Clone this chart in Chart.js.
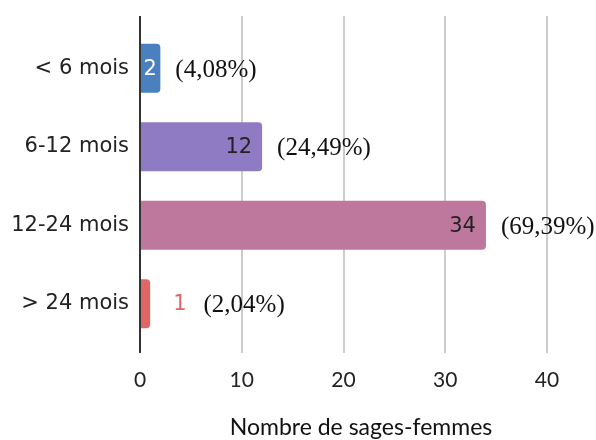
<!DOCTYPE html>
<html>
<head>
<meta charset="utf-8">
<script src="https://cdn.jsdelivr.net/npm/chart.js@4/dist/chart.umd.min.js"></script>
<style>
  html, body { margin: 0; padding: 0; background: #ffffff; }
  #c { display: block; }
</style>
</head>
<body>
<canvas id="c" width="596" height="440"></canvas>
<script>
// ---- Data ----
const categories = ['< 6 mois', '6-12 mois', '12-24 mois', '> 24 mois'];
const counts = [2, 12, 34, 1];
const percentLabels = ['(4,08%)', '(24,49%)', '(69,39%)', '(2,04%)'];
const xTickValues = [0, 10, 20, 30, 40];
const axisTitle = 'Nombre de sages-femmes';

// ---- Styles ----
const barColors = ['#4a7fc0', '#8e7bc3', '#be789e', '#e06666'];
const valueLabelColors = ['#ffffff', '#222222', '#222222', '#e06666'];

const gridPlugin = {
  id: 'gridPlugin',
  beforeDatasetsDraw(chart) {
    const ctx = chart.ctx;
    const xs = chart.scales.x;
    const area = chart.chartArea;
    ctx.save();
    ctx.lineWidth = 2;
    ctx.strokeStyle = '#cccccc';
    xTickValues.forEach(v => {
      if (v === 0) return;
      const px = Math.round(xs.getPixelForValue(v));
      ctx.beginPath();
      ctx.moveTo(px, area.top - 13);
      ctx.lineTo(px, area.bottom + 10);
      ctx.stroke();
    });
    ctx.restore();
  },
  afterDatasetsDraw(chart) {
    const ctx = chart.ctx;
    const xs = chart.scales.x;
    const area = chart.chartArea;
    const meta = chart.getDatasetMeta(0);
    ctx.save();
    // axis line at 0
    const px0 = Math.round(xs.getPixelForValue(0));
    ctx.lineWidth = 2;
    ctx.strokeStyle = '#333333';
    ctx.beginPath();
    ctx.moveTo(px0, area.top - 13);
    ctx.lineTo(px0, area.bottom + 10);
    ctx.stroke();

    ctx.textBaseline = 'middle';
    meta.data.forEach((el, i) => {
      const end = el.x;
      const start = el.base;
      const y = el.y;
      const txt = String(counts[i]);
      ctx.font = '21px "DejaVu Sans"';
      const tw = ctx.measureText(txt).width;
      const barW = end - start;
      let pctX;
      ctx.fillStyle = valueLabelColors[i];
      if (tw + 6 <= barW) {
        const pad = Math.min(10, (barW - tw) / 2);
        ctx.textAlign = 'right';
        ctx.fillText(txt, end - pad, y + 1);
        pctX = end + 15;
      } else {
        ctx.textAlign = 'left';
        ctx.fillText(txt, end + 23, y + 1);
        pctX = end + 23 + tw + 17;
      }
      ctx.font = '25px "Liberation Serif"';
      ctx.fillStyle = '#111111';
      ctx.textAlign = 'left';
      ctx.fillText(percentLabels[i], pctX, y + 2);
    });

    // axis title
    ctx.font = '23px Lato';
    ctx.fillStyle = '#111111';
    ctx.textAlign = 'center';
    ctx.textBaseline = 'middle';
    ctx.fillText(axisTitle, 361, 428);
    ctx.restore();
  }
};

new Chart(document.getElementById('c'), {
  type: 'bar',
  data: {
    labels: categories,
    datasets: [{
      data: counts,
      backgroundColor: barColors,
      borderWidth: 0,
      borderRadius: 4,
      borderSkipped: 'start',
      categoryPercentage: 1.0,
      barPercentage: 0.625
    }]
  },
  options: {
    indexAxis: 'y',
    responsive: false,
    animation: false,
    events: [],
    layout: { padding: { top: 29, right: 49, left: 0, bottom: 0 } },
    plugins: {
      legend: { display: false },
      tooltip: { enabled: false }
    },
    scales: {
      x: {
        type: 'linear',
        min: 0,
        max: 40,
        afterBuildTicks(scale) {
          scale.ticks = xTickValues.map(v => ({ value: v }));
        },
        afterFit(scale) { scale.height = 97; },
        grid: { display: false, drawTicks: false },
        border: { display: false },
        ticks: {
          padding: 25,
          color: '#222222',
          font: { family: 'Lato', size: 21 },
          maxRotation: 0
        },
        title: { display: false }
      },
      y: {
        type: 'category',
        offset: true,
        afterFit(scale) { scale.width = 140; },
        grid: { display: false, drawTicks: false },
        border: { display: false },
        ticks: {
          padding: 11,
          color: '#222222',
          font: { family: 'DejaVu Sans', size: 21 }
        }
      }
    }
  },
  plugins: [gridPlugin]
});
</script>
</body>
</html>
